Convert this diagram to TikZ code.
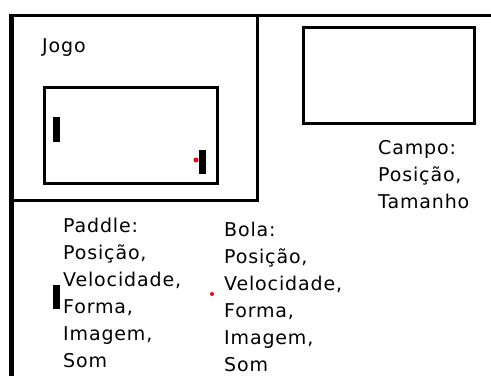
\documentclass[tikz,border=0pt]{standalone}
\usepackage{fontspec}
\setmainfont{DejaVu Sans}[LetterSpace=4.5]
\usepackage{tikz}

\tikzset{
  frameline/.style={line width=3pt},
  boxline/.style={line width=3pt},
  paddlebar/.style={fill=black},
  balldot/.style={fill=red},
  label/.style={anchor=base west, inner sep=0pt, align=left,
    font=\fontsize{19}{27}\selectfont}
}

\begin{document}
\begin{tikzpicture}[x=1pt,y=-1pt]
\useasboundingbox (0,0) rectangle (491,376);

% outer frame
\draw[frameline] (9,15) -- (491,15);
\draw[line width=4.5pt] (11.5,13.5) -- (11.5,376);

% jogo box
\draw[frameline] (257,15) -- (257,200) -- (11,200);
\node[label] (jogo) at (42,52) {Jogo};

% field inside jogo
\draw[boxline] (44,87) rectangle (217,183);
\fill[paddlebar] (53,117) rectangle (60,142);
\fill[paddlebar] (199,150) rectangle (206,174);
\fill[balldot] (196,160) circle (2.5);

% campo (base anchor sits on the last line)
\draw[boxline] (303,27) rectangle (474,123);
\node[label] (campo) at (378,208) {Campo:\\Posição,\\Tamanho};

% paddle
\fill[paddlebar] (53,285) rectangle (60,309);
\node[label] (paddle) at (63,367) {Paddle:\\Posição,\\Velocidade,\\Forma,\\Imagem,\\Som};

% bola
\fill[balldot] (212,294) circle (2);
\node[label] (bola) at (224,371) {Bola:\\Posição,\\Velocidade,\\Forma,\\Imagem,\\Som};
\end{tikzpicture}
\end{document}
